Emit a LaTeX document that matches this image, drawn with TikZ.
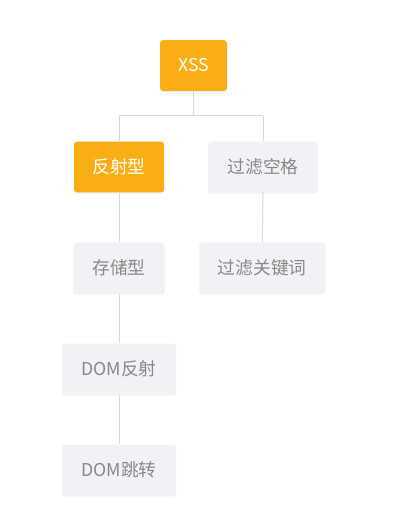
\documentclass[tikz,border=0pt]{standalone}
\usepackage{fontspec}
\setmainfont{Noto Sans CJK SC}
\usetikzlibrary{shadows}
\definecolor{orangebox}{HTML}{FAAD14}
\definecolor{graybox}{HTML}{F0F2F5}
\definecolor{graytext}{HTML}{888888}
\definecolor{linecol}{HTML}{D9D9D9}
\tikzset{
  base/.style={rounded corners=2.2pt, minimum height=38pt, inner sep=0pt, font=\fontsize{13.3pt}{15pt}\selectfont},
  hotbox/.style={base, fill=orangebox, text=white, drop shadow={opacity=0.1, shadow xshift=0pt, shadow yshift=-1pt}},
  coolbox/.style={base, fill=graybox, text=graytext, drop shadow={opacity=0.1, shadow xshift=0pt, shadow yshift=-1pt}},
  link/.style={draw=linecol, line width=0.75pt}
}
\begin{document}
\begin{tikzpicture}[x=0.75pt, y=-0.75pt]
\useasboundingbox (0,0) rectangle (409,523);
\coordinate (j) at (193.5,116);
\coordinate (jl) at (119,116);
\coordinate (jr) at (263,116);
\node[hotbox, minimum width=50.25pt] (xss) at (193.5,65.5) {XSS};
\node[hotbox, minimum width=67.5pt] (fs) at (119,167) {反射型};
\node[coolbox, minimum width=82.5pt] (gk) at (263,167) {过滤空格};
\node[coolbox, minimum width=68.25pt] (cc) at (119,268) {存储型};
\node[coolbox, minimum width=94.5pt] (gg) at (262.3,268) {过滤关键词};
\node[coolbox, minimum width=85.5pt] (dr) at (119,369) {DOM反射};
\node[coolbox, minimum width=85.5pt] (dt) at (119,470) {DOM跳转};
\draw[link] (xss.south) -- (j);
\draw[link] (jl) -- (jr);
\draw[link] (jl) -- (fs.north);
\draw[link] (jr) -- (gk.north);
\draw[link] (fs.south) -- (cc.north);
\draw[link] (cc.south) -- (dr.north);
\draw[link] (dr.south) -- (dt.north);
\draw[link] (gk.south) -- (gg.north);
\end{tikzpicture}
\end{document}
